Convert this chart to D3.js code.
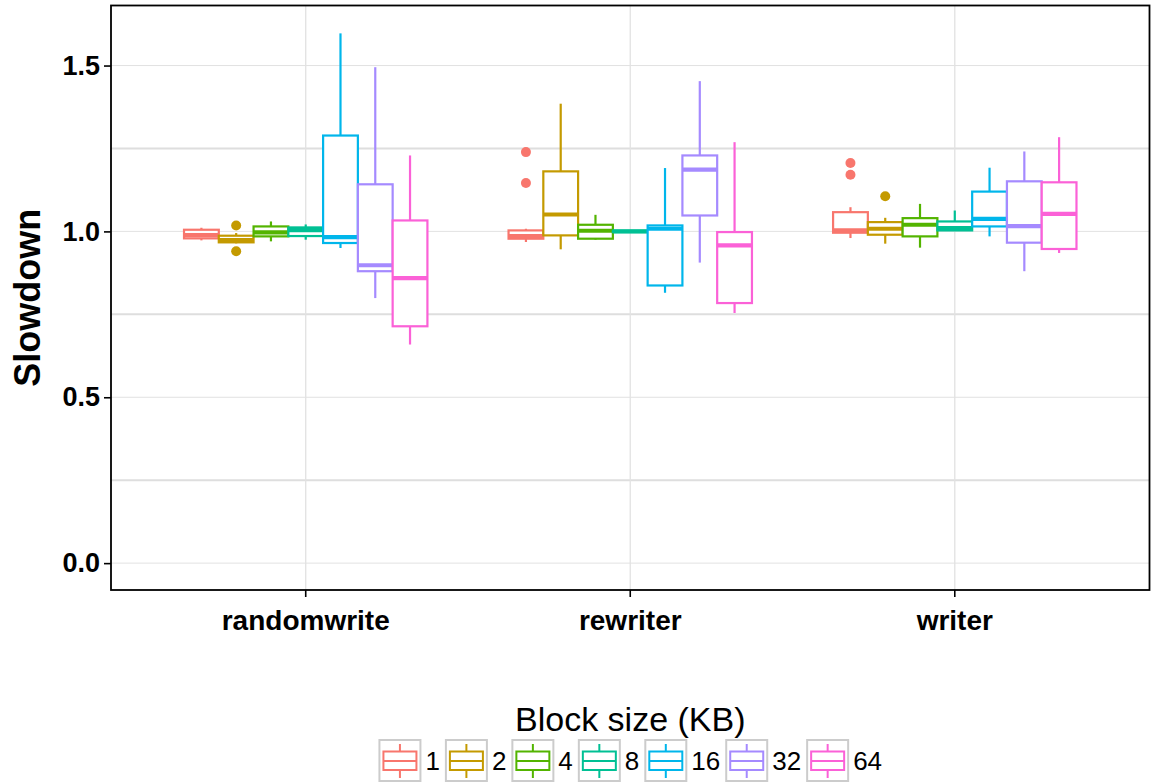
<!DOCTYPE html>
<html>
<head>
<meta charset="utf-8">
<script src="https://cdn.jsdelivr.net/npm/d3@7"></script>
<style>
  html, body { margin: 0; padding: 0; background: #ffffff; }
  svg { display: block; font-family: "Liberation Sans", Arial, sans-serif; }
</style>
</head>
<body>
<svg id="chart" width="1151" height="782"></svg>
<script>
// Workloads on the x axis and block sizes (KB) dodged within each workload
const workloads = ["randomwrite", "rewriter", "writer"];
const blockSizes = ["1", "2", "4", "8", "16", "32", "64"];
const colors = ["#F8766D", "#C49A00", "#53B400", "#00C094", "#00B6EB", "#A58AFF", "#FB61D7"];

// Box statistics per workload (rows) and block size (columns)
const whiskerLow = [
  [0.973, 0.964, 0.970, 0.975, 0.950, 0.799, 0.659],
  [0.968, 0.946, 0.975, 0.997, 0.815, 0.906, 0.754],
  [0.980, 0.963, 0.951, 1.003, 0.985, 0.880, 0.935]
];
const q1 = [
  [0.979, 0.967, 0.985, 0.986, 0.965, 0.880, 0.714],
  [0.978, 0.988, 0.978, 0.998, 0.837, 1.048, 0.784],
  [0.996, 0.990, 0.985, 1.003, 1.015, 0.966, 0.947]
];
const median = [
  [0.989, 0.974, 0.997, 1.004, 0.983, 0.898, 0.859],
  [0.986, 1.051, 1.002, 1.000, 1.008, 1.186, 0.958],
  [1.003, 1.008, 1.020, 1.010, 1.038, 1.016, 1.053]
];
const q3 = [
  [1.005, 0.987, 1.015, 1.012, 1.289, 1.142, 1.033],
  [1.003, 1.181, 1.020, 1.002, 1.018, 1.229, 0.998],
  [1.058, 1.028, 1.040, 1.030, 1.120, 1.151, 1.148]
];
const whiskerHigh = [
  [1.011, 0.995, 1.030, 1.021, 1.597, 1.495, 1.229],
  [1.008, 1.385, 1.050, 1.003, 1.191, 1.453, 1.269],
  [1.073, 1.041, 1.083, 1.063, 1.192, 1.241, 1.284]
];
// Outliers: [workload, block size, slowdown]
const outliers = [
  ["randomwrite", "2", 1.018], ["randomwrite", "2", 0.940],
  ["rewriter", "1", 1.239], ["rewriter", "1", 1.146],
  ["writer", "1", 1.206], ["writer", "1", 1.171], ["writer", "2", 1.106]
];
const yTicks = [0, 0.5, 1.0, 1.5];
const yMinorTicks = [0.25, 0.75, 1.25];

const svg = d3.select("#chart");
const panel = { left: 111, right: 1149.5, top: 5.5, bottom: 590 };

const x = d3.scaleBand()
  .domain(workloads)
  .range([panel.left, panel.right])
  .paddingInner(0.25)
  .paddingOuter(0.225);
const xInner = d3.scaleBand()
  .domain(blockSizes)
  .range([0, x.bandwidth()])
  .padding(0);
const y = d3.scaleLinear()
  .domain([-0.081, 1.681])
  .range([panel.bottom, panel.top]);
const color = d3.scaleOrdinal().domain(blockSizes).range(colors);

// Grid
const grid = svg.append("g");
grid.selectAll("line.minor").data(yMinorTicks).join("line")
  .attr("x1", panel.left).attr("x2", panel.right)
  .attr("y1", d => y(d)).attr("y2", d => y(d))
  .attr("stroke", "#dedede").attr("stroke-width", 2);
grid.selectAll("line.major").data(yTicks).join("line")
  .attr("x1", panel.left).attr("x2", panel.right)
  .attr("y1", d => y(d)).attr("y2", d => y(d))
  .attr("stroke", "#e2e2e2").attr("stroke-width", 1);
grid.selectAll("line.vert").data(workloads).join("line")
  .attr("x1", d => x(d) + x.bandwidth() / 2).attr("x2", d => x(d) + x.bandwidth() / 2)
  .attr("y1", panel.top).attr("y2", panel.bottom)
  .attr("stroke", "#e2e2e2").attr("stroke-width", 1.3);

// Boxes
const boxes = [];
workloads.forEach((w, wi) => {
  blockSizes.forEach((b, bi) => {
    boxes.push({
      w, b,
      lo: whiskerLow[wi][bi], q1: q1[wi][bi], med: median[wi][bi],
      q3: q3[wi][bi], hi: whiskerHigh[wi][bi]
    });
  });
});

const bw = xInner.bandwidth();
const g = svg.append("g");
const box = g.selectAll("g.box").data(boxes).join("g")
  .attr("transform", d => `translate(${x(d.w) + xInner(d.b)},0)`);

box.append("line")
  .attr("x1", bw / 2).attr("x2", bw / 2)
  .attr("y1", d => y(d.q3)).attr("y2", d => y(d.hi))
  .attr("stroke", d => color(d.b)).attr("stroke-width", 2.2);
box.append("line")
  .attr("x1", bw / 2).attr("x2", bw / 2)
  .attr("y1", d => y(d.q1)).attr("y2", d => y(d.lo))
  .attr("stroke", d => color(d.b)).attr("stroke-width", 2.2);
box.append("rect")
  .attr("x", 0).attr("width", bw)
  .attr("y", d => y(d.q3))
  .attr("height", d => Math.max(0.1, y(d.q1) - y(d.q3)))
  .attr("fill", "#ffffff")
  .attr("stroke", d => color(d.b)).attr("stroke-width", 2.2);
box.append("line")
  .attr("x1", 0).attr("x2", bw)
  .attr("y1", d => y(d.med)).attr("y2", d => y(d.med))
  .attr("stroke", d => color(d.b)).attr("stroke-width", 4.2);

g.selectAll("circle").data(outliers).join("circle")
  .attr("cx", d => x(d[0]) + xInner(d[1]) + bw / 2)
  .attr("cy", d => y(d[2]))
  .attr("r", 5)
  .attr("fill", d => color(d[1]));

// Panel border
svg.append("rect")
  .attr("x", panel.left).attr("y", panel.top)
  .attr("width", panel.right - panel.left).attr("height", panel.bottom - panel.top)
  .attr("fill", "none").attr("stroke", "#000").attr("stroke-width", 1.8);

// Axes
const yAxis = svg.append("g")
  .attr("transform", `translate(${panel.left},0)`)
  .call(d3.axisLeft(y).tickValues(yTicks).tickFormat(d3.format(".1f")).tickSize(7).tickPadding(4));
yAxis.select(".domain").remove();
yAxis.selectAll(".tick line").attr("stroke", "#000").attr("stroke-width", 1.6);
yAxis.selectAll(".tick text")
  .attr("font-family", "Liberation Sans, Arial, sans-serif")
  .attr("font-size", 27).attr("font-weight", "bold").attr("fill", "#000");

const xAxis = svg.append("g")
  .attr("transform", `translate(0,${panel.bottom})`)
  .call(d3.axisBottom(x).tickSize(7).tickPadding(13));
xAxis.select(".domain").remove();
xAxis.selectAll(".tick line").attr("stroke", "#000").attr("stroke-width", 1.6);
xAxis.selectAll(".tick text")
  .attr("font-family", "Liberation Sans, Arial, sans-serif")
  .attr("font-size", 28).attr("font-weight", "bold").attr("fill", "#000");

svg.append("text")
  .attr("transform", `translate(40,${(panel.top + panel.bottom) / 2}) rotate(-90)`)
  .attr("text-anchor", "middle")
  .attr("font-size", 36).attr("font-weight", "bold")
  .text("Slowdown");

// Legend
const legendCenter = (panel.left + panel.right) / 2;
svg.append("text")
  .attr("x", legendCenter).attr("y", 731)
  .attr("text-anchor", "middle")
  .attr("font-size", 34)
  .text("Block size (KB)");

const keyW = 43, keyH = 43, keyTop = 739, gapLabel = 4, gapItem = 5;
const legend = svg.append("g");
const items = legend.selectAll("g").data(blockSizes).join("g");
items.append("text")
  .attr("font-size", 26)
  .attr("y", keyTop + keyH / 2 + 9.5)
  .text(d => d);
const widths = [];
items.each(function () { widths.push(this.querySelector("text").getComputedTextLength()); });
const total = d3.sum(widths) + blockSizes.length * (keyW + gapLabel) + (blockSizes.length - 1) * gapItem;
let cursor = legendCenter - total / 2;
const offsets = widths.map(wd => { const o = cursor; cursor += keyW + gapLabel + wd + gapItem; return o; });
items.attr("transform", (d, i) => `translate(${offsets[i]},0)`);
items.select("text").attr("x", keyW + gapLabel);
items.insert("rect", "text")
  .attr("x", 1).attr("y", keyTop + 1).attr("width", keyW - 2).attr("height", keyH - 2)
  .attr("fill", "#ffffff").attr("stroke", "#cccccc").attr("stroke-width", 2);
items.append("line")
  .attr("x1", keyW / 2).attr("x2", keyW / 2)
  .attr("y1", keyTop + 5).attr("y2", keyTop + keyH - 4)
  .attr("stroke", d => color(d)).attr("stroke-width", 2);
items.append("rect")
  .attr("x", 5).attr("width", keyW - 10)
  .attr("y", keyTop + 12.5).attr("height", 18.5)
  .attr("fill", "#ffffff")
  .attr("stroke", d => color(d)).attr("stroke-width", 2);
items.append("line")
  .attr("x1", 5).attr("x2", keyW - 5)
  .attr("y1", keyTop + 22).attr("y2", keyTop + 22)
  .attr("stroke", d => color(d)).attr("stroke-width", 2);
</script>
</body>
</html>
